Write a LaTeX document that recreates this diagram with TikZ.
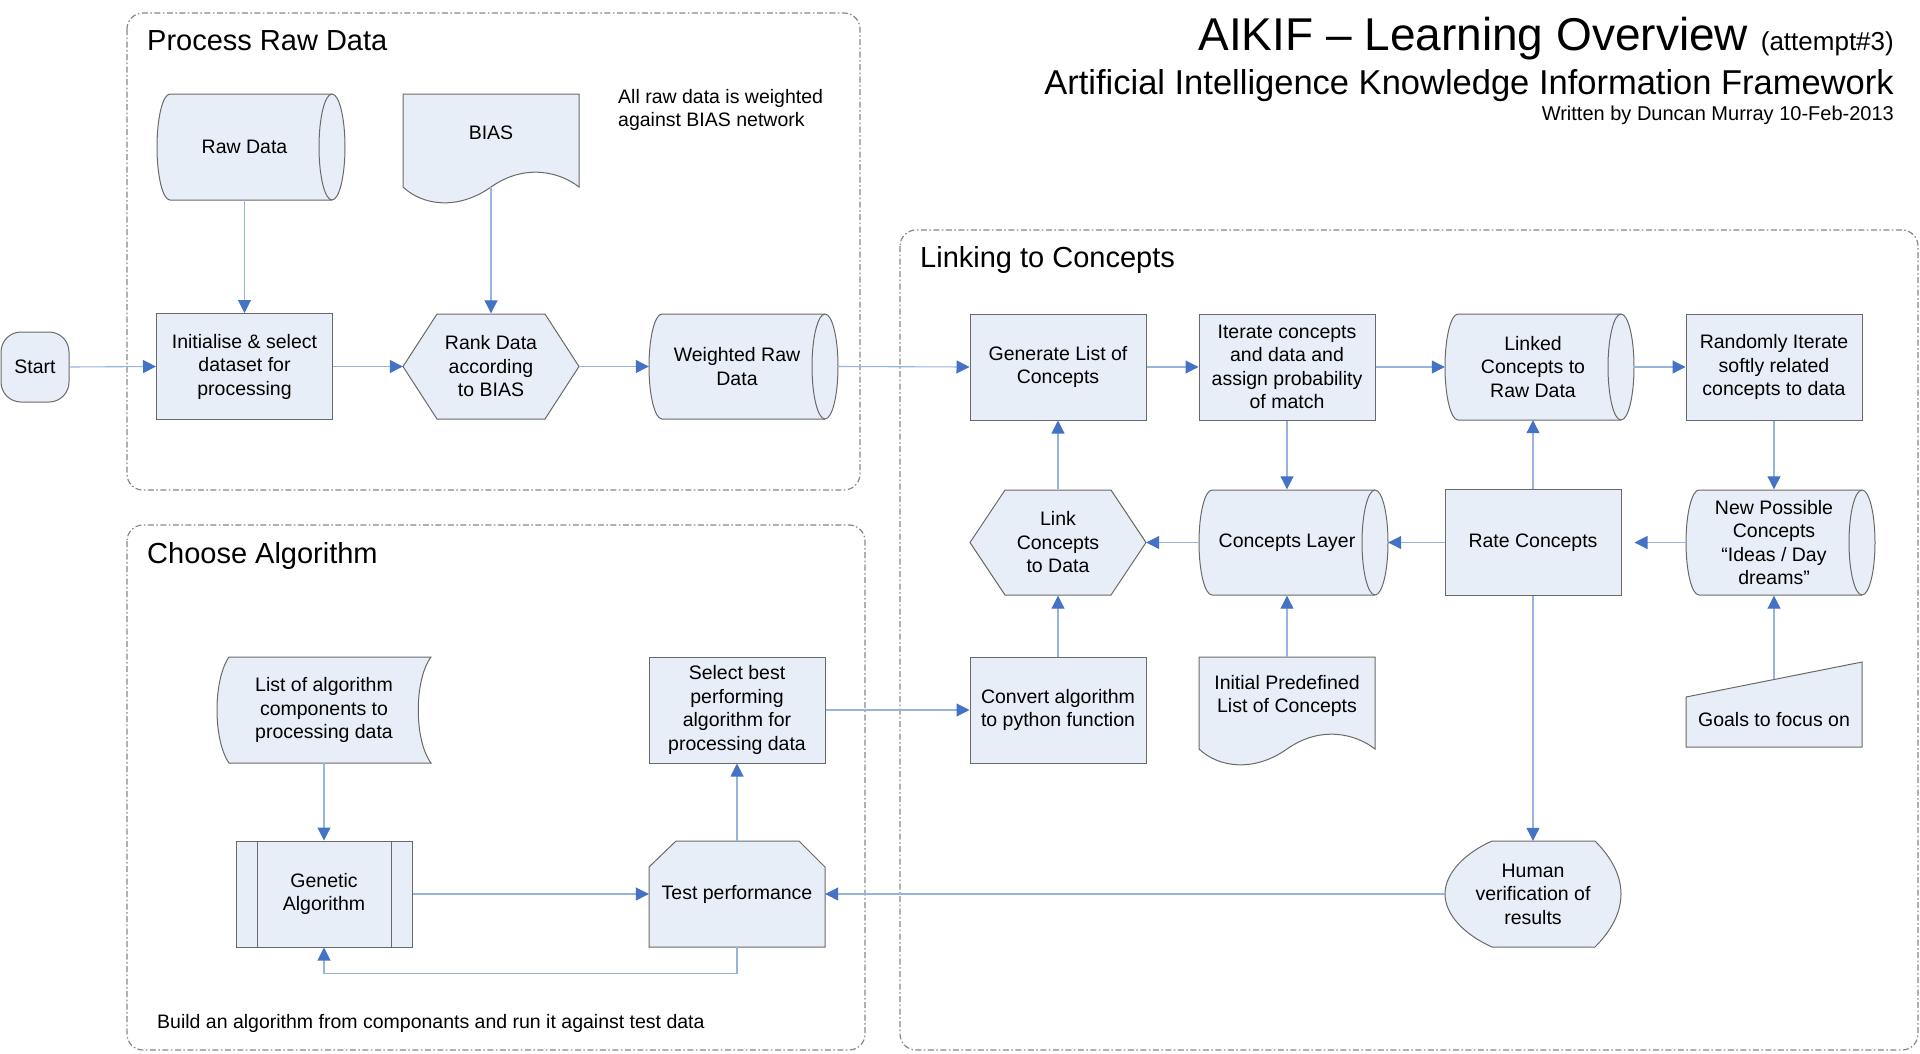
\documentclass[tikz,border=0pt]{standalone}
\usepackage{fontspec}
\setmainfont{Liberation Sans}
\usetikzlibrary{arrows.meta}
\definecolor{boxfill}{RGB}{232,238,247}
\definecolor{boxline}{RGB}{105,105,105}
\definecolor{connc}{RGB}{150,180,222}
\definecolor{arrowc}{RGB}{68,114,196}
\definecolor{framec}{RGB}{135,135,135}

\newcommand\cylshape[4]{% left extremity, top, right ellipse centre, bottom
  \pgfmathsetlengthmacro\cylry{((#4)-(#2))/2}%
  \path[shp] (#1+13,#2) -- (#3,#2) arc[start angle=90,end angle=-90,x radius=13pt,y radius=\cylry]
     -- (#1+13,#4) arc[start angle=270,end angle=90,x radius=13pt,y radius=\cylry] -- cycle;
  \draw[shapeline] (#3,#2) arc[start angle=90,end angle=270,x radius=13pt,y radius=\cylry];
}
\newcommand\docshape[4]{% left, top, right, wave base
  \path[shp] (#1,#2) -- (#3,#2) -- (#3,#4)
     .. controls (#3-19,#4-15) and (#3-54,#4-24) .. ({(#1+#3)/2},#4)
     .. controls ({(#1+#3)/2-34},#4+24) and (#1+19,#4+18) .. (#1,#4) -- cycle;
}
\newcommand\hexshape[5]{% left, top, right, bottom, inset
  \path[shp] (#1,{(#2+#4)/2}) -- (#1+#5,#2) -- (#3-#5,#2) -- (#3,{(#2+#4)/2})
     -- (#3-#5,#4) -- (#1+#5,#4) -- cycle;
}

\begin{document}
\begin{tikzpicture}[x=1pt,y=-1pt,
  shp/.style={fill=boxfill,draw=boxline,line width=1pt},
  shapeline/.style={draw=boxline,line width=1pt},
  lbl/.style={font=\fontsize{19.5pt}{23.5pt}\selectfont,align=center,inner sep=0pt},
  txt/.style={lbl,minimum width=176pt,minimum height=106pt},
  rbox/.style={shp,txt},
  conn/.style={draw=connc,line width=1.1pt,-{Triangle[length=13pt,width=13pt,color=arrowc]}},
  frm/.style={draw=framec,line width=1.2pt,dash pattern=on 6pt off 2.5pt on 1.5pt off 2.5pt,rounded corners=16pt},
  ttl/.style={font=\fontsize{29pt}{34pt}\selectfont,inner sep=0pt,anchor=base west},
]
\useasboundingbox (0,0) rectangle (1920,1053);

% ---------- frames ----------
\draw[frm] (127,13) rectangle (860,490);
\draw[frm] (127,525) rectangle (865,1050);
\draw[frm] (900,230) rectangle (1918,1050);

\node[ttl] (t1) at (147,50) {Process Raw Data};
\node[ttl] (t2) at (147,563) {Choose Algorithm};
\node[ttl] (t3) at (920,267) {Linking to Concepts};

% ---------- heading ----------
\node[anchor=base east,inner sep=0pt,font=\fontsize{46pt}{50pt}\selectfont] (head1) at (1894,50)
  {AIKIF – Learning Overview {\fontsize{26pt}{30pt}\selectfont(attempt\#3)}};
\node[anchor=base east,inner sep=0pt,font=\fontsize{34.5pt}{38pt}\selectfont] (head2) at (1894,94)
  {Artificial Intelligence Knowledge Information Framework};
\node[anchor=base east,inner sep=0pt,font=\fontsize{20pt}{24pt}\selectfont] (head3) at (1894,120)
  {Written by Duncan Murray 10-Feb-2013};

% ---------- notes ----------
\node[lbl,align=left,anchor=north west] (note1) at (618,89)
  {All raw data is weighted\\against BIAS network};
\node[lbl,anchor=base west] (note2) at (157,1028)
  {Build an algorithm from componants and run it against test data};

% ---------- Process Raw Data ----------
\node[shp,lbl,minimum width=68pt,minimum height=70pt,rounded corners=20pt] (start) at (35,367) {Start};
\cylshape{157}{94}{332}{200}
\node[txt] (rawdata) at (244.5,147) {Raw Data};
\docshape{403}{94}{579}{187}
\node[lbl,minimum width=176pt,minimum height=108pt] (bias) at (491,133) {BIAS};
\node[rbox] (init) at (244.5,366.5) {Initialise \& select\\dataset for\\processing};
\hexshape{403}{314}{579}{419}{34}
\node[txt] (rank) at (491,366.5) {Rank Data\\according\\to BIAS};
\cylshape{649}{314}{825}{419}
\node[txt] (weighted) at (737,366.5) {Weighted Raw\\Data};

% ---------- Linking to Concepts ----------
\node[rbox] (generate) at (1058,367) {Generate List of\\Concepts};
\node[rbox] (iterate) at (1287,367) {Iterate concepts\\and data and\\assign probability\\of match};
\cylshape{1445}{314}{1621}{420}
\node[txt] (linked) at (1533,367) {Linked\\Concepts to\\Raw Data};
\node[rbox] (randomly) at (1774,367) {Randomly Iterate\\softly related\\concepts to data};

\hexshape{970}{490}{1146}{595}{35}
\node[txt] (link) at (1058,542.5) {Link\\Concepts\\to Data};
\cylshape{1199}{490}{1375}{595}
\node[txt] (layer) at (1287,542.5) {Concepts Layer};
\node[rbox] (rate) at (1533,542.5) {Rate Concepts};
\cylshape{1686}{490}{1862}{595}
\node[txt] (newc) at (1774,542.5) {New Possible\\Concepts\\“Ideas / Day\\dreams”};

\node[rbox] (convert) at (1058,710) {Convert algorithm\\to python function};
\docshape{1199}{657}{1375}{749}
\node[lbl,minimum width=176pt,minimum height=78pt] (initial) at (1287,696) {Initial Predefined\\List of Concepts};
\path[shp] (1686,697) -- (1862,662) -- (1862,747) -- (1686,747) -- cycle;
\node[lbl,minimum width=176pt,minimum height=81pt] (goals) at (1774,720) {Goals to focus on};

\path[shp] (1492,841) -- (1595,841) .. controls (1612,858) and (1621,876) .. (1621,894)
   .. controls (1621,912) and (1612,930) .. (1595,947) -- (1492,947)
   .. controls (1465,935) and (1445,915) .. (1445,894)
   .. controls (1445,873) and (1465,853) .. (1492,841) -- cycle;
\node[txt] (human) at (1533,894) {Human\\verification of\\results};

% ---------- Choose Algorithm ----------
\path[shp] (229,657) -- (431,657) .. controls (414,680) and (414,740) .. (431,763)
   -- (229,763) .. controls (213,740) and (213,680) .. (229,657) -- cycle;
\node[txt] (list) at (324,710) {List of algorithm\\components to\\processing data};
\node[rbox] (genetic) at (324,894) {Genetic\\Algorithm};
\draw[shapeline] (257,841) -- (257,947) (391,841) -- (391,947);
\node[rbox] (select) at (737,710) {Select best\\performing\\algorithm for\\processing data};
\path[shp] (649,947) -- (649,867) -- (676,841) -- (799,841) -- (825,867) -- (825,947) -- cycle;
\node[txt] (test) at (737,894) {Test performance};

% ---------- connectors ----------
\draw[conn] (start.east) -- (init.west);
\draw[conn] (rawdata.south) -- (init.north);
\draw[conn] (bias.south) -- (rank.north);
\draw[conn] (init.east) -- (rank.west);
\draw[conn] (rank.east) -- (weighted.west);
\draw[conn] ([xshift=13pt]weighted.east) -- (generate.west);
\draw[conn] (generate.east) -- (iterate.west);
\draw[conn] (iterate.east) -- (linked.west);
\draw[conn] ([xshift=13pt]linked.east) -- (randomly.west);
\draw[conn] (randomly.south) -- (newc.north);
\draw[conn] (newc.west) -- ([xshift=13pt]rate.east);
\draw[conn] (rate.west) -- ([xshift=13pt]layer.east);
\draw[conn] (layer.west) -- (link.east);
\draw[conn] (link.north) -- (generate.south);
\draw[conn] (iterate.south) -- (layer.north);
\draw[conn] (rate.north) -- (linked.south);
\draw[conn] (convert.north) -- (link.south);
\draw[conn] (initial.north) -- (layer.south);
\draw[conn] (goals.north) -- (newc.south);
\draw[conn] (rate.south) -- (human.north);
\draw[conn] (human.west) -- (test.east);
\draw[conn] (list.south) -- (genetic.north);
\draw[conn] (genetic.east) -- (test.west);
\draw[conn] (test.north) -- (select.south);
\draw[conn] (test.south) -- ++(0,26) -| (genetic.south);
\draw[conn] (select.east) -- (convert.west);
\end{tikzpicture}
\end{document}
